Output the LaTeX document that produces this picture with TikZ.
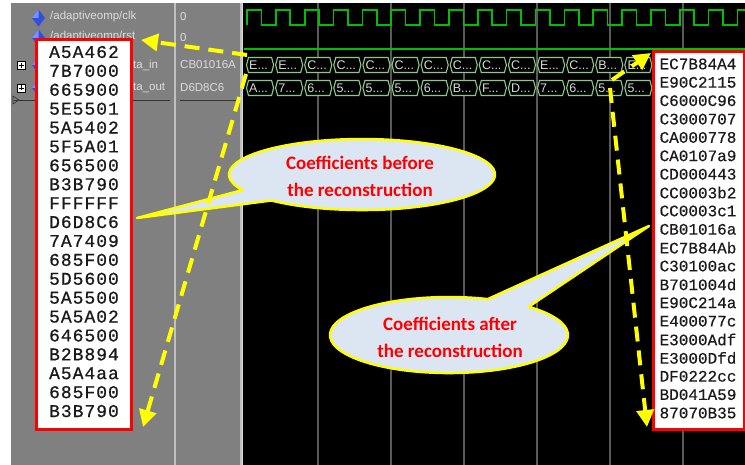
\documentclass[tikz,border=0pt]{standalone}
\usepackage{fontspec}
\setmainfont{Liberation Sans}
\newfontfamily\coefLfont[LetterSpace=5.5,FakeBold=0.7]{Liberation Mono}
\newfontfamily\coefRfont[FakeBold=0.4]{Liberation Mono}
\newfontfamily\calloutfont{Carlito}
\usetikzlibrary{arrows.meta}
\definecolor{panelgray}{HTML}{808080}
\definecolor{divgray}{HTML}{C0C0C0}
\definecolor{gridgray}{HTML}{5A5A5A}
\definecolor{wavegreen}{HTML}{00C000}
\definecolor{busgreen}{HTML}{8CC88C}
\definecolor{bustext}{HTML}{D8D8D8}
\definecolor{nametext}{HTML}{DCDCDC}
\definecolor{calloutblue}{HTML}{DCE6F2}
\definecolor{arrowyellow}{HTML}{FFFF00}
\definecolor{boxred}{HTML}{FF0000}
\definecolor{sigblue}{HTML}{2F4FE0}
\definecolor{sigbluelight}{HTML}{7A90FF}
\definecolor{coeftext}{HTML}{1A1A1A}
\begin{document}
\begin{tikzpicture}[x=1pt,y=-1pt,
  sig/.style={font=\fontsize{11.5}{13}\selectfont, text=nametext, anchor=west, inner sep=0pt},
  bustxt/.style={font=\fontsize{12.5}{14}\selectfont, text=bustext, anchor=west, inner sep=0pt},
  busshape/.style={draw=busgreen, line width=1.1pt, fill=black},
  coefL/.style={font=\coefLfont\fontsize{18}{19}\selectfont, text=coeftext, inner sep=0pt},
  coefR/.style={font=\coefRfont\fontsize{16}{18}\selectfont, text=coeftext, inner sep=0pt},
  redbox/.style={draw=boxred, line width=3pt, fill=white, inner sep=0pt, anchor=north west},
  callout/.style={draw=arrowyellow, line width=2.5pt, fill=calloutblue, line join=round},
  callouttxt/.style={font=\calloutfont\bfseries\fontsize{19}{27}\selectfont, text=boxred, align=center, inner sep=0pt},
  yarrow/.style={draw=arrowyellow, line width=4pt, dash pattern=on 15pt off 9pt, -{Triangle[length=17pt,width=17pt]}},
  gridline/.style={draw=gridgray, line width=1.3pt},
  wave/.style={draw=wavegreen, line width=1.6pt},
  divider/.style={draw=divgray, line width=2pt}
]
\useasboundingbox (0,0) rectangle (745,465);
\clip (0,0) rectangle (745,465);
% backgrounds
\fill[white] (0,0) rectangle (745,465);
\fill[panelgray] (11,3) rectangle (242,465);
\fill[black] (242,3) rectangle (745,465);
\draw[divider] (175,3) -- (175,465);
\draw[divider] (241,3) -- (241,465);
% separator lines under the signal rows
\draw[black!80, line width=0.8pt] (14,100) -- (170,100);
\draw[black!80, line width=0.8pt] (180,100) -- (237,100);
\draw[black!80, line width=0.6pt] (13,96) -- (13,104) -- (19,100) -- cycle;
% signal icons
\foreach \yy in {18,38,65,88}{
  \fill[sigblue] (38.5,{\yy-8.5}) -- (45,\yy) -- (38.5,{\yy+8.5}) -- (32,\yy) -- cycle;
  \fill[sigbluelight] (38.5,{\yy-8.5}) -- (38.5,\yy) -- (32,\yy) -- cycle;
}
\foreach \yy in {65.5,88}{
  \draw[black, fill=white, line width=0.6pt] (17,{\yy-4}) rectangle (25,{\yy+4});
  \draw[black, line width=0.8pt] (18.5,\yy) -- (23.5,\yy) (21,{\yy-2.5}) -- (21,{\yy+2.5});
}
% signal names and values
\node[sig] (n1) at (50,17) {/adaptiveomp/clk};
\node[sig] (n2) at (50,37) {/adaptiveomp/rst};
\node[sig] (n3) at (133,65) {ta\_in};
\node[sig] (n4) at (133,88) {ta\_out};
\node[sig] (v1) at (180,17) {0};
\node[sig] (v2) at (180,38) {0};
\node[sig] (v3) at (180,65) {CB01016A};
\node[sig] (v4) at (180,88) {D6D8C6};
% grid cursors
\foreach \gx in {318,391,464,537,610,683} \draw[gridline] (\gx,3) -- (\gx,465);
\draw[draw=white!85!black, line width=1pt] (242.5,3) -- (242.5,465);
% clock
\draw[wave] (247,25) \foreach \k in {0,...,17} { -- ({247+28.85*\k},25) -- ({247+28.85*\k},10) -- ({261.4+28.85*\k},10) -- ({261.4+28.85*\k},25) };
% reset
\draw[wave] (244,49) -- (745,49);
% buses
\foreach \k/\a/\b in {0/E/A,1/E/7,2/C/6,3/C/5,4/C/5,5/C/5,6/C/6,7/C/B,8/C/F,9/C/D,10/E/7,11/C/6,12/B/5,13/E/5}{
  \pgfmathsetmacro{\xa}{245.5+29.1*\k}
  \pgfmathsetmacro{\xb}{\xa+29.1}
  \draw[busshape] ({\xa+1},65) -- ({\xa+3},57.5) -- ({\xb-3},57.5) -- ({\xb-1},65) -- ({\xb-3},72.5) -- ({\xa+3},72.5) -- cycle;
  \node[bustxt] (in\k) at ({\xa+3.5},65.5) {\a...};
  \draw[busshape] ({\xa+1},88) -- ({\xa+3},80.5) -- ({\xb-3},80.5) -- ({\xb-1},88) -- ({\xb-3},95.5) -- ({\xa+3},95.5) -- cycle;
  \node[bustxt] (out\k) at ({\xa+3.5},88.5) {\b...};
}
\draw[busshape] (652,65) -- (654,57.5) -- (660,57.5) (652,88) -- (654,80.5) -- (660,80.5);
% left coefficient box
\node[redbox, minimum width=95pt, minimum height=390pt] (lbox) at (35,38) {};
\foreach \v [count=\i from 0] in {A5A462,7B7000,665900,5E5501,5A5402,5F5A01,656500,B3B790,FFFFFF,D6D8C6,7A7409,685F00,5D5600,5A5500,5A5A02,646500,B2B894,A5A4aa,685F00,B3B790}
  \node[coefL] (lv\i) at (84,{52+18.9*\i}) {\v};
% right coefficient box
\node[redbox, minimum width=91pt, minimum height=378pt] (rbox) at (652,50) {};
\foreach \v [count=\i from 0] in {EC7B84A4,E90C2115,C6000C96,C3000707,CA000778,CA0107a9,CD000443,CC0003b2,CC0003c1,CB01016a,EC7B84Ab,C30100ac,B701004d,E90C214a,E400077c,E3000Adf,E3000Dfd,DF0222cc,BD041A59,87070B35}
  \node[coefR] (rv\i) at (698,{64+18.37*\i}) {\v};
% callouts
\draw[callout] (242.5,190.1) arc[start angle=154, end angle=493, x radius=133, y radius=35.5] -- (137,218) -- cycle;
\node[callouttxt] (c1) at (360,176) {Coefficients before\\the reconstruction};
\draw[callout] (528.6,306.8) arc[start angle=312, end angle=649, x radius=119, y radius=38] -- (649,226) -- cycle;
\node[callouttxt] (c2) at (450,337) {Coefficients after\\the reconstruction};
% yellow arrows
\coordinate (a1s) at (247,55);
\coordinate (a1e) at (141,40);
\coordinate (a2s) at (246,74);
\coordinate (a2e) at (143,427);
\coordinate (a3s) at (612,80);
\coordinate (a3e) at (651,53);
\coordinate (a4s) at (610,88);
\coordinate (a4e) at (647,427);
\draw[yarrow] (a1s) -- (a1e);
\draw[yarrow] (a2s) -- (a2e);
\draw[yarrow] (a3s) -- (a3e);
\draw[yarrow] (a4s) -- (a4e);
\end{tikzpicture}
\end{document}
